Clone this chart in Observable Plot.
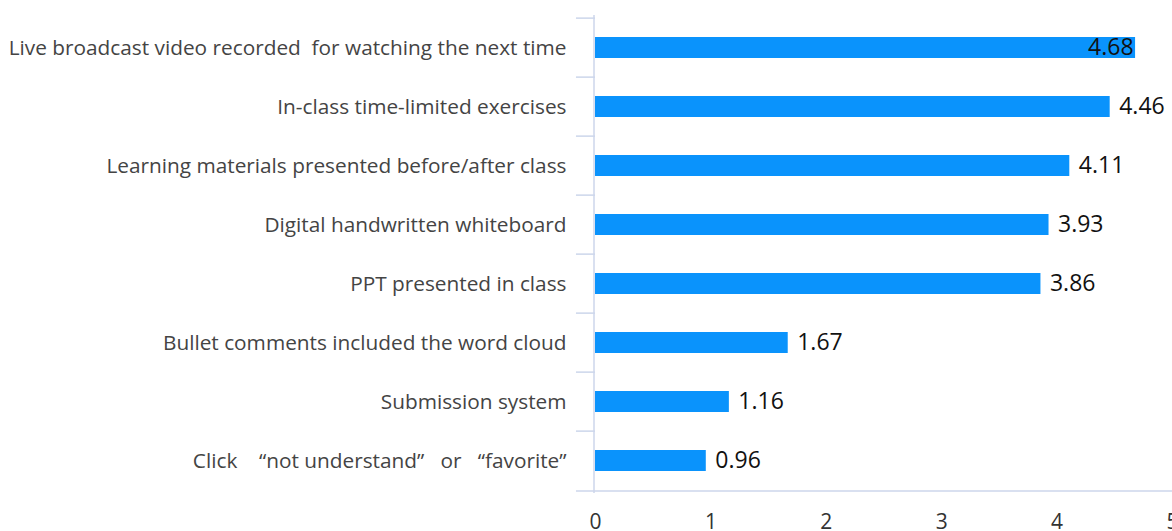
<!DOCTYPE html>
<html>
<head>
<meta charset="utf-8">
<script src="https://cdn.jsdelivr.net/npm/d3@7"></script>
<script src="https://cdn.jsdelivr.net/npm/@observablehq/plot@0.6"></script>
<style>
  html, body { margin: 0; padding: 0; background: #fff; overflow: hidden; }
  #chart svg { display: block; }
</style>
</head>
<body>
<div id="chart"></div>
<script>
const categories = [
  "Live broadcast video recorded\u00a0 for watching the next time",
  "In-class time-limited exercises",
  "Learning materials presented before/after class",
  "Digital handwritten whiteboard",
  "PPT presented in class",
  "Bullet comments included the word cloud",
  "Submission system",
  "Click \u00a0\u00a0\u00a0\u201cnot understand\u201d\u00a0\u00a0 or \u00a0\u00a0\u201cfavorite\u201d"
];
const values = [4.68, 4.46, 4.11, 3.93, 3.86, 1.67, 1.16, 0.96];
const xTicks = [0, 1, 2, 3, 4, 5];

const data = categories.map((c, i) => ({category: c, value: values[i], inside: i === 0}));

const W = 1172, H = 531, mTop = 15, mBottom = 38;
const step = (H - mTop - mBottom) / categories.length;
const axisColor = "#ccd6eb";
const barColor = "#0a93fc";
const font = "'Open Sans', 'Noto Sans', sans-serif";

const chart = Plot.plot({
  width: W,
  height: H,
  marginLeft: 595,
  marginRight: 0,
  marginTop: mTop,
  marginBottom: mBottom,
  style: {fontFamily: font, background: "#fff", overflow: "visible"},
  x: {domain: [0, 5], ticks: xTicks, axis: null},
  y: {domain: categories, paddingInner: 0.64, paddingOuter: 0.32, axis: null},
  marks: [
    Plot.barX(data, {x: "value", y: "category", fill: barColor}),
    // band boundary ticks to the left of the axis
    Plot.ruleY(categories, {y: d => d, x1: -0.165, x2: 0, dy: -step / 2, stroke: axisColor, strokeWidth: 1.5, clip: false}),
    // bottom baseline across the plot
    Plot.ruleY([categories[categories.length - 1]], {y: d => d, x1: -0.165, x2: 5, dy: step / 2, stroke: axisColor, strokeWidth: 1.5, clip: false}),
    // vertical axis line
    Plot.ruleX([0], {stroke: axisColor, strokeWidth: 1.5, dx: -1.5}),
    Plot.axisY({
      label: null, tickSize: 0, tickPadding: 29, fontSize: 20.8, fill: "#444", fontFamily: font
    }),
    Plot.axisX({
      label: null, ticks: xTicks, tickSize: 0, tickPadding: 21, fontSize: 21, fill: "#333", fontFamily: font, tickFormat: d3.format("d")
    }),
    Plot.text(data.filter(d => !d.inside), {
      x: "value", y: "category", text: d => d.value.toFixed(2),
      textAnchor: "start", dx: 9, fontSize: 23, fill: "#111", fontFamily: font
    }),
    Plot.text(data.filter(d => d.inside), {
      x: "value", y: "category", text: d => d.value.toFixed(2),
      textAnchor: "end", dx: -2, fontSize: 23, fill: "#111", fontFamily: font
    })
  ]
});
document.getElementById("chart").appendChild(chart);
</script>
</body>
</html>
